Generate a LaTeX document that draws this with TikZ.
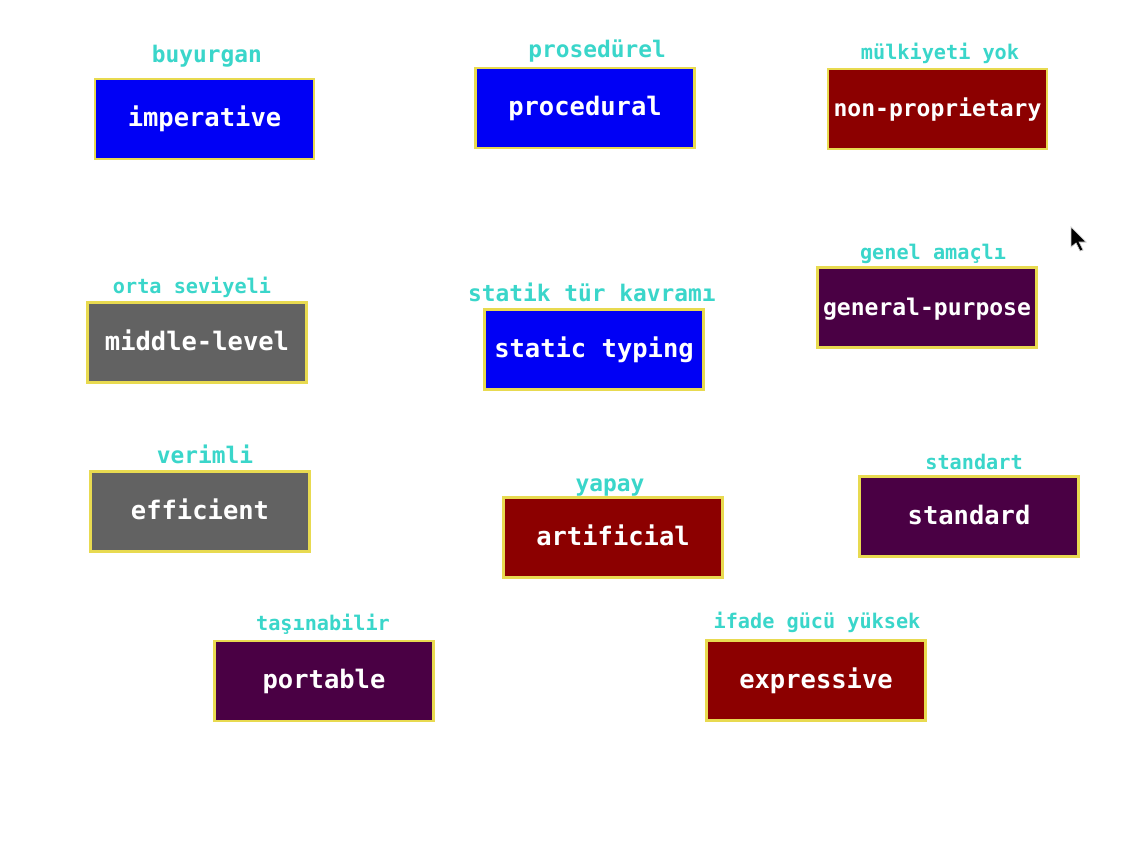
\documentclass[tikz,border=0pt]{standalone}
\usepackage{fontspec}
\setmonofont{DejaVu Sans Mono}
\definecolor{boxblue}{HTML}{0000F5}
\definecolor{boxred}{HTML}{8C0000}
\definecolor{boxgray}{HTML}{626262}
\definecolor{boxpurple}{HTML}{4A0044}
\definecolor{edgeyellow}{HTML}{E8DA50}
\definecolor{lblcyan}{HTML}{3AD6CA}
\begin{document}
\begin{tikzpicture}[x=0.02cm,y=-0.02cm,
    term/.style={draw=edgeyellow,line width=1.3pt,minimum width=4.38cm,minimum height=1.6cm,
        inner sep=0pt,text=white,font=\ttfamily\bfseries\fontsize{14.5pt}{17pt}\selectfont,
        text height=1.1em,text depth=0.2em},
    longterm/.style={term,font=\ttfamily\bfseries\fontsize{13.1pt}{16pt}\selectfont},
    tr/.style={text=lblcyan,anchor=base,inner sep=0pt,font=\ttfamily\bfseries\fontsize{13pt}{15pt}\selectfont},
    smalltr/.style={tr,font=\ttfamily\bfseries\fontsize{11.5pt}{14pt}\selectfont}]
    %page
    \fill[white] (0,0) rectangle (1124,845);
    %first row
    \node[term,fill=boxblue](imperative) at (204.5,119) {imperative};
    \node[tr](buyurgan) at (207,62) {buyurgan};
    \node[term,fill=boxblue](procedural) at (585,108) {procedural};
    \node[tr](prosedurel) at (597,57) {prosedürel};
    \node[longterm,fill=boxred](nonprop) at (937.5,109) {non-proprietary};
    \node[smalltr](mulkiyet) at (940,59) {mülkiyeti yok};
    %second row
    \node[term,fill=boxgray](middle) at (197,342.5) {middle-level};
    \node[smalltr](orta) at (192,293) {orta seviyeli};
    \node[term,fill=boxblue](static) at (594,349.5) {static typing};
    \node[tr](statik) at (592,301) {statik tür kavramı};
    \node[longterm,fill=boxpurple](general) at (927,307.5) {general-purpose};
    \node[smalltr](genel) at (933,259) {genel amaçlı};
    %third row
    \node[term,fill=boxgray](efficient) at (200,511.5) {efficient};
    \node[tr](verimli) at (205,463) {verimli};
    \node[term,fill=boxred](artificial) at (613,537.5) {artificial};
    \node[tr](yapay) at (610,491) {yapay};
    \node[term,fill=boxpurple](standard) at (969,516.5) {standard};
    \node[smalltr](standart) at (974,469) {standart};
    %last row
    \node[term,fill=boxpurple](portable) at (324,681) {portable};
    \node[smalltr](tasinabilir) at (323,630) {taşınabilir};
    \node[term,fill=boxred](expressive) at (816,680.5) {expressive};
    \node[smalltr](ifade) at (817,628) {ifade gücü yüksek};
    %pointer
    \draw[fill=black,draw=white!80!black,line width=0.4pt] (1071,227) -- (1071,247) -- (1076,243)
        -- (1080,251) -- (1083,250) -- (1079,242) -- (1086,242) -- cycle;
\end{tikzpicture}
\end{document}
